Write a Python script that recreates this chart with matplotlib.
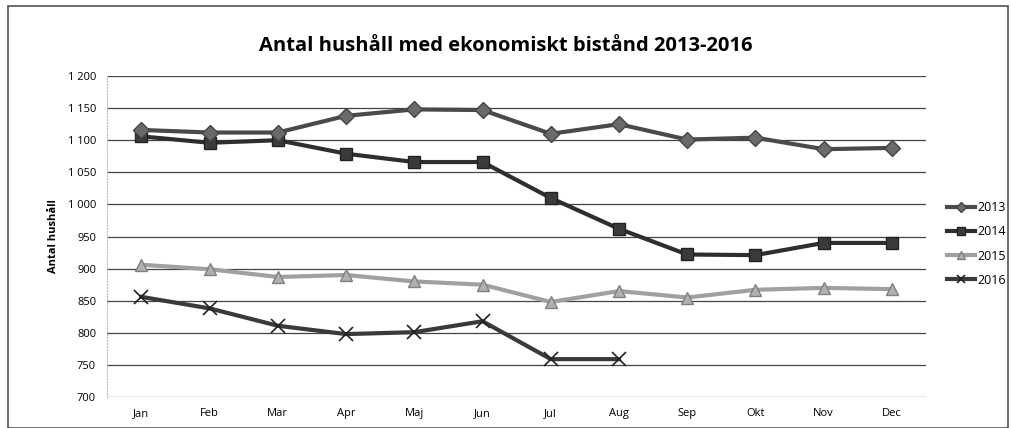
import matplotlib
matplotlib.use("Agg")
import matplotlib.pyplot as plt
from matplotlib.patches import Rectangle

months = ["Jan", "Feb", "Mar", "Apr", "Maj", "Jun", "Jul", "Aug", "Sep", "Okt", "Nov", "Dec"]
v2013 = [1116, 1112, 1112, 1138, 1148, 1147, 1110, 1125, 1101, 1104, 1086, 1088]
v2014 = [1106, 1096, 1100, 1079, 1066, 1066, 1010, 962, 922, 921, 940, 940]
v2015 = [906, 899, 887, 890, 880, 875, 848, 865, 855, 867, 870, 868]
v2016 = [856, 838, 811, 798, 801, 818, 759, 759]
yticks = [700, 750, 800, 850, 900, 950, 1000, 1050, 1100, 1150, 1200]

plt.rcParams['font.family'] = ['Open Sans', 'DejaVu Sans']

fig = plt.figure(figsize=(10.12, 4.28), dpi=100)
ax = fig.add_axes([0.106, 0.0724, 0.809, 0.750])

x = list(range(len(months)))
ax.plot(x, v2013, color="#4a4a4a", lw=3, marker="D", ms=8, mfc="#6a6a6a", mec="#444444", label="2013", zorder=4)
ax.plot(x, v2014, color="#2e2e2e", lw=3, marker="s", ms=9, mfc="#3a3a3a", mec="#222222", label="2014", zorder=3)
ax.plot(x, v2015, color="#a0a0a0", lw=3, marker="^", ms=9, mfc="#b0b0b0", mec="#808080", label="2015", zorder=3)
ax.plot(x[:len(v2016)], v2016, color="#3a3a3a", lw=3, marker="x", ms=10, mew=1.2, mec="#222222", label="2016", zorder=3)

ax.set_xlim(-0.5, len(months) - 0.5)
ax.set_ylim(700, 1200)
ax.set_yticks(yticks)
ax.set_yticklabels([f"{t:,}".replace(",", " ") for t in yticks], fontsize=8)
ax.set_xticks(x)
ax.set_xticklabels(months, fontsize=8)
ax.tick_params(length=0, pad=8)
ax.grid(axis="y", color="#444444", lw=0.9)
ax.set_axisbelow(True)
for side in ["top", "right", "bottom"]:
    ax.spines[side].set_visible(False)
ax.spines["left"].set_color("#bbbbbb")
ax.spines["left"].set_linestyle(":")
ax.set_ylabel("Antal hushåll", fontsize=8, fontweight="bold", labelpad=6)

fig.suptitle("Antal hushåll med ekonomiskt bistånd 2013-2016", fontsize=14.5, fontweight="bold", y=0.915)

leg = fig.legend(loc="center left", bbox_to_anchor=(0.925, 0.43), frameon=False, fontsize=9,
                 handlelength=2.2, handletextpad=0.2, labelspacing=0.9, markerscale=0.6)

fig.add_artist(Rectangle((0.008, 0.0), 0.988, 0.985, transform=fig.transFigure, fill=False,
                         edgecolor="#555555", lw=1.2))

fig.savefig("out.png", dpi=100)
